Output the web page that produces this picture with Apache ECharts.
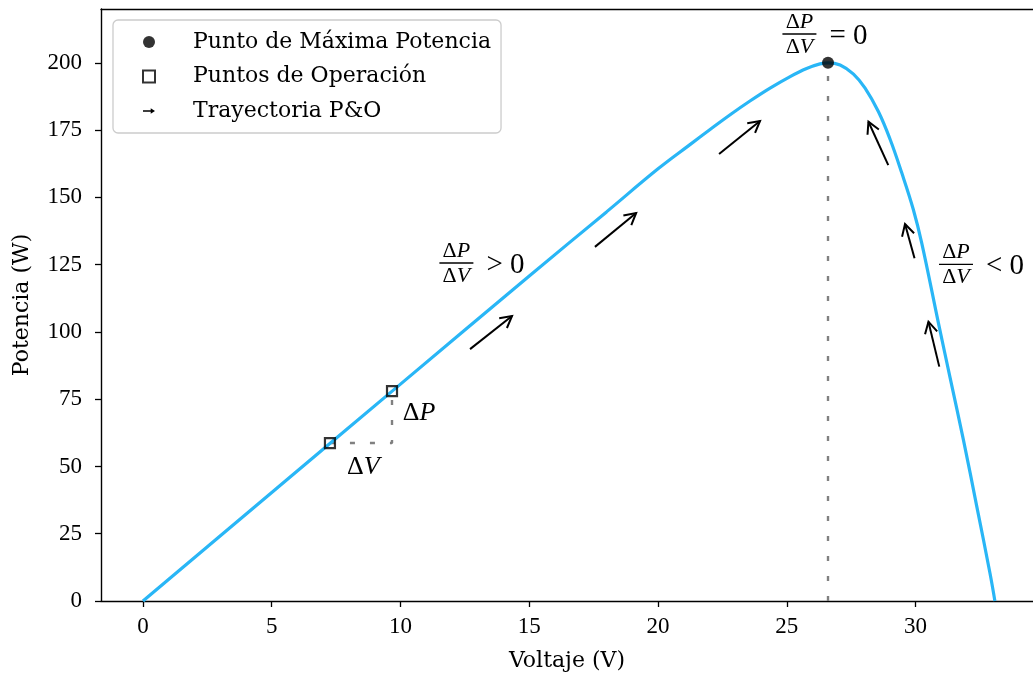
<!DOCTYPE html>
<html>
<head>
<meta charset="utf-8">
<script src="https://cdn.jsdelivr.net/npm/echarts@6/dist/echarts.min.js"></script>
<style>
html,body{margin:0;padding:0;background:#fff;overflow:hidden;}
#c{width:1033px;height:677px;}
</style>
</head>
<body>
<div id="c"></div>
<script>
// ---- data ----
const V_CURVE = [0, 5, 10, 15, 18, 20, 21.24, 22.02, 22.8, 23.57, 24.35, 25.13, 25.77, 26.29, 26.6, 27.07, 27.59, 28.04, 28.56, 29.01, 29.46, 29.91, 30.24, 30.89, 31.34, 31.86, 32.38, 32.89, 33.08];
const P_CURVE = [0, 40.3, 80.6, 120.8, 144.6, 160.6, 169.6, 175.2, 180.7, 185.8, 190.6, 194.9, 197.9, 199.6, 200.0, 199.2, 195.8, 190.6, 181.8, 171.6, 159.2, 145.6, 133.0, 103.2, 83.0, 59.8, 35.0, 10.3, 0];
const MPP_V = [26.6];
const MPP_P = [200];
const OP_V = [7.26, 9.67];
const OP_P = [58.7, 78.0];
const ARROW_FROM_V = [12.70, 17.55, 22.37, 28.94, 29.96, 30.92];
const ARROW_FROM_P = [93.6, 131.6, 166.1, 162.0, 127.4, 87.1];
const ARROW_TO_V = [14.33, 19.15, 23.96, 28.17, 29.59, 30.50];
const ARROW_TO_P = [105.9, 144.2, 178.4, 178.1, 140.1, 103.8];
const FRAC_V = [12.17, 25.49, 31.57];
const FRAC_P = [125.6, 210.7, 125.1];
const FRAC_OP = ['>', '=', '<'];
const DELTA_LABEL_V = [8.56, 10.72];
const DELTA_LABEL_P = [49.8, 69.9];
const DELTA_LABEL_TXT = ['V', 'P'];
const X_TICKS = [0, 5, 10, 15, 20, 25, 30];
const Y_TICKS = [0, 25, 50, 75, 100, 125, 150, 175, 200];
const X_MIN = -1.63, X_MAX = 34.56, Y_MIN = 0, Y_MAX = 220;
const NAMES = ['Punto de Máxima Potencia', 'Puntos de Operación', 'Trayectoria P&O'];

// ---- build ----
const curve = V_CURVE.map((v, i) => [v, P_CURVE[i]]);
const mpp = MPP_V.map((v, i) => [v, MPP_P[i]]);
const ops = OP_V.map((v, i) => [v, OP_P[i]]);
const arrows = ARROW_FROM_V.map((v, i) => [v, ARROW_FROM_P[i], ARROW_TO_V[i], ARROW_TO_P[i]]);
const fracs = FRAC_V.map((v, i) => [v, FRAC_P[i]]);
const deltas = DELTA_LABEL_V.map((v, i) => [v, DELTA_LABEL_P[i]]);
const mppLine = [[MPP_V[0], 0], [MPP_V[0], MPP_P[0]]];
const dLine = [[OP_V[0], OP_P[0]], [OP_V[1], OP_P[0]], [OP_V[1], OP_P[1]]];

const SERIF = '"DejaVu Serif", serif';
const MATH = '"Liberation Serif", serif';
const dotted = { color: '#808080', width: 2.4, type: [5, 15] };

const mathRich = (size) => ({
  u: { fontFamily: MATH, fontSize: size, fill: '#000', color: '#000' },
  i: { fontFamily: MATH, fontSize: size, fontStyle: 'italic', fill: '#000', color: '#000' }
});

const chart = echarts.init(document.getElementById('c'), null, { renderer: 'canvas' });
chart.setOption({
  animation: false,
  backgroundColor: '#fff',
  grid: { left: 101, right: 0, top: 9, bottom: 76 },
  legend: {
    orient: 'vertical',
    left: 113, top: 20,
    data: [
      { name: NAMES[0], icon: 'circle' },
      { name: NAMES[1], icon: 'rect' },
      { name: NAMES[2], icon: 'path://M0,4.2 L9,4.2 L9,1.8 L14,5 L9,8.2 L9,5.8 L0,5.8 Z' }
    ],
    itemWidth: 12, itemHeight: 12,
    itemGap: 10.5,
    padding: [10, 10, 10, 29],
    backgroundColor: '#fff',
    borderColor: '#cccccc', borderWidth: 1.3, borderRadius: 5,
    textStyle: { fontFamily: SERIF, fontSize: 22, color: '#000', padding: [0, 0, 0, 33], lineHeight: 24 },
    selectedMode: false
  },
  xAxis: [{
    type: 'value', min: X_MIN, max: X_MAX,
    name: 'Voltaje (V)', nameLocation: 'middle', nameGap: 49,
    nameTextStyle: { fontFamily: SERIF, fontSize: 22, color: '#000' },
    axisLine: { show: true, onZero: false, lineStyle: { color: '#000', width: 1.4 } },
    axisTick: { show: true, length: 6, customValues: X_TICKS, lineStyle: { color: '#000', width: 1.3 } },
    axisLabel: { customValues: X_TICKS, margin: 14, fontFamily: MATH, fontSize: 23, color: '#000' },
    splitLine: { show: false }
  }, {
    type: 'value', min: X_MIN, max: X_MAX, position: 'top',
    axisLine: { show: true, onZero: false, lineStyle: { color: '#000', width: 1.4 } },
    axisTick: { show: false }, axisLabel: { show: false }, splitLine: { show: false }
  }],
  yAxis: {
    type: 'value', min: Y_MIN, max: Y_MAX,
    name: 'Potencia (W)', nameLocation: 'middle', nameGap: 68,
    nameTextStyle: { fontFamily: SERIF, fontSize: 22, color: '#000' },
    axisLine: { show: true, onZero: false, lineStyle: { color: '#000', width: 1.4 } },
    axisTick: { show: true, length: 6, customValues: Y_TICKS, lineStyle: { color: '#000', width: 1.3 } },
    axisLabel: { customValues: Y_TICKS, margin: 19, fontFamily: MATH, fontSize: 23, color: '#000' },
    splitLine: { show: false }
  },
  series: [
    {
      type: 'line', name: 'mppline', data: mppLine, showSymbol: false, silent: true,
      lineStyle: dotted, z: 1
    },
    {
      type: 'line', name: 'dline', data: dLine, showSymbol: false, silent: true,
      lineStyle: dotted, z: 1
    },
    {
      type: 'line', name: 'curve', data: curve, showSymbol: false, silent: true,
      smooth: 0.4,
      lineStyle: { color: '#29b6f6', width: 3.2 }, z: 2
    },
    {
      type: 'scatter', name: NAMES[0], data: mpp, symbol: 'circle', symbolSize: 12,
      itemStyle: { color: '#000' }, z: 5
    },
    {
      type: 'scatter', name: NAMES[1], data: ops, symbol: 'rect', symbolSize: 10,
      itemStyle: { color: 'rgba(255,255,255,0)', borderColor: '#000', borderWidth: 2.2 }, z: 5
    },
    {
      type: 'custom', name: NAMES[2], data: arrows, z: 4,
      itemStyle: { color: '#000' },
      encode: { x: [0, 2], y: [1, 3] },
      renderItem: function (params, api) {
        const a = api.coord([api.value(0), api.value(1)]);
        const b = api.coord([api.value(2), api.value(3)]);
        const ang = Math.atan2(b[1] - a[1], b[0] - a[0]);
        const L = 13, h = 0.5;
        const p1 = [b[0] - L * Math.cos(ang - h), b[1] - L * Math.sin(ang - h)];
        const p2 = [b[0] - L * Math.cos(ang + h), b[1] - L * Math.sin(ang + h)];
        return {
          type: 'group', children: [
            { type: 'line', shape: { x1: a[0], y1: a[1], x2: b[0], y2: b[1] }, style: { stroke: '#000', lineWidth: 2 } },
            { type: 'polyline', shape: { points: [p1, b, p2] }, style: { stroke: '#000', lineWidth: 2, fill: null } }
          ]
        };
      }
    },
    {
      type: 'custom', name: 'fracs', data: fracs, z: 6, silent: true,
      encode: { x: 0, y: 1 },
      renderItem: function (params, api) {
        const c = api.coord([api.value(0), api.value(1)]);
        const w = 34;
        const op = FRAC_OP[params.dataIndex];
        return {
          type: 'group', children: [
            { type: 'line', shape: { x1: c[0] - w / 2, y1: c[1], x2: c[0] + w / 2, y2: c[1] }, style: { stroke: '#000', lineWidth: 1.4 } },
            { type: 'text', style: { text: '{u|Δ}{i|P}', x: c[0], y: c[1] - 1, align: 'center', verticalAlign: 'bottom', rich: mathRich(22) } },
            { type: 'text', style: { text: '{u|Δ}{i|V}', x: c[0], y: c[1] + 2, align: 'center', verticalAlign: 'top', rich: mathRich(22) } },
            { type: 'text', style: { text: op + ' 0', x: c[0] + w / 2 + 13, y: c[1] + 2, align: 'left', verticalAlign: 'middle', fontFamily: MATH, fontSize: 29, fill: '#000' } }
          ]
        };
      }
    },
    {
      type: 'custom', name: 'deltas', data: deltas, z: 6, silent: true,
      encode: { x: 0, y: 1 },
      renderItem: function (params, api) {
        const c = api.coord([api.value(0), api.value(1)]);
        return {
          type: 'text', style: { text: '{u|Δ}{i|' + DELTA_LABEL_TXT[params.dataIndex] + '}', x: c[0], y: c[1], align: 'center', verticalAlign: 'middle', rich: mathRich(26) }
        };
      }
    }
  ]
});
</script>
</body>
</html>
